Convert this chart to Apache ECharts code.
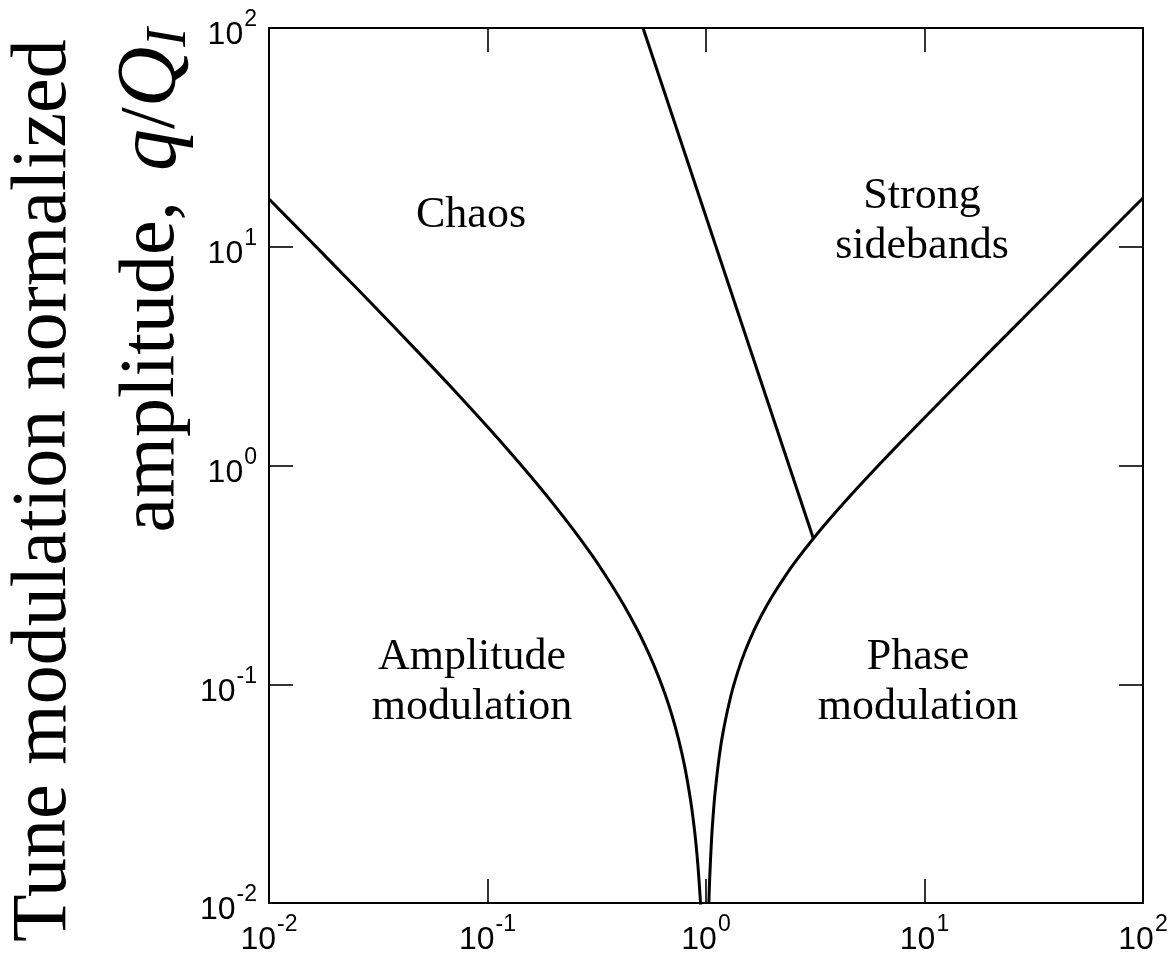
<!DOCTYPE html>
<html>
<head>
<meta charset="utf-8">
<script src="https://cdn.jsdelivr.net/npm/echarts@6/dist/echarts.min.js"></script>
<style>
  html, body { margin: 0; padding: 0; background: #fff; }
  #chart { width: 1175px; height: 960px; }
</style>
</head>
<body>
<div id="chart"></div>
<script>
// Regime boundaries of a tune-modulated oscillator on log-log axes.
// x: modulation tune ratio, y: normalized modulation amplitude q/Q_I.

// Boundary between amplitude modulation and chaos  [x, q/Q_I]
const amplitudeBoundary = [
  [0.01, 16.53], [0.015, 10.97], [0.02, 8.18], [0.03, 5.40], [0.05, 3.17],
  [0.07, 2.22], [0.1, 1.503], [0.13, 1.118], [0.16, 0.877], [0.2, 0.668],
  [0.25, 0.501], [0.3, 0.390], [0.35, 0.310], [0.4, 0.2505], [0.45, 0.2041],
  [0.5, 0.167], [0.55, 0.1366], [0.6, 0.1113], [0.65, 0.0899], [0.7, 0.0716],
  [0.75, 0.0557], [0.8, 0.0418], [0.85, 0.0295], [0.88, 0.0228], [0.9, 0.0186],
  [0.92, 0.0145], [0.94, 0.0107], [0.945, 0.0097]
];

// Boundary of the phase modulation regime
const phaseBoundary = [
  [1.03, 0.0099], [1.04, 0.0131], [1.06, 0.0195], [1.08, 0.0257], [1.1, 0.0319],
  [1.15, 0.0469], [1.2, 0.0612], [1.3, 0.0886], [1.4, 0.1145], [1.5, 0.1392],
  [1.65, 0.1743], [1.8, 0.2078], [2, 0.2505], [2.3, 0.3115], [2.6, 0.370],
  [3.1, 0.4638], [3.6, 0.5548], [4.2, 0.6616], [5, 0.8016], [6, 0.974],
  [7, 1.145], [8.5, 1.400], [10, 1.653], [14, 2.326], [20, 3.332],
  [30, 5.004], [50, 8.347], [70, 11.687], [100, 16.70]
];

// Boundary between chaos and strong sidebands
const sidebandBoundary = [
  [3.1, 0.4638], [0.515, 100]
];

// Decade range shown on both axes (exponents of ten)
const decadeExponents = [-2, -1, 0, 1, 2];

const regionLabels = [
  { lines: ['Chaos'], x: 471, y: 215 },
  { lines: ['Strong', 'sidebands'], x: 922, y: 221 },
  { lines: ['Amplitude', 'modulation'], x: 472, y: 682 },
  { lines: ['Phase', 'modulation'], x: 918, y: 682 }
];

const tickFont = '"Liberation Sans", Arial, Helvetica, sans-serif';
const serifFont = '"Liberation Serif", "Times New Roman", serif';

// "10" sits low in a 36px label line, the exponent is raised to its top
const labelRich = {
  b: { fontFamily: tickFont, fontSize: 32, color: '#000', lineHeight: 36, height: 21, verticalAlign: 'bottom' },
  s: { fontFamily: tickFont, fontSize: 23, color: '#000', lineHeight: 36, height: 20, verticalAlign: 'top', padding: [0, 0, 0, 1] }
};

function labelFormatter(value) {
  const e = Math.round(Math.log10(value));
  return '{b|10}{s|' + e + '}';
}

const axisCommon = {
  type: 'log',
  logBase: 10,
  min: Math.pow(10, decadeExponents[0]),
  max: Math.pow(10, decadeExponents[decadeExponents.length - 1]),
  axisLine: { show: true, onZero: false, lineStyle: { color: '#000', width: 2 } },
  axisTick: { show: true, inside: true, length: 24, lineStyle: { color: '#000', width: 1.6 } },
  minorTick: { show: false },
  splitLine: { show: false },
  minorSplitLine: { show: false }
};

const chart = echarts.init(document.getElementById('chart'), null, { renderer: 'canvas' });

const lineStyle = { color: '#000', width: 3 };

const option = {
  animation: false,
  backgroundColor: '#fff',
  grid: { left: 269, right: 32, top: 28, bottom: 57, containLabel: false },
  xAxis: [
    Object.assign({}, axisCommon, {
      position: 'bottom',
      axisLabel: { show: true, margin: 12, formatter: labelFormatter, rich: labelRich }
    }),
    Object.assign({}, axisCommon, {
      position: 'top',
      axisLabel: { show: false }
    })
  ],
  yAxis: [
    Object.assign({}, axisCommon, {
      position: 'left',
      axisLabel: { show: true, margin: 12, formatter: labelFormatter, rich: labelRich }
    }),
    Object.assign({}, axisCommon, {
      position: 'right',
      axisLabel: { show: false }
    })
  ],
  series: [
    {
      type: 'line', name: 'amplitude', data: amplitudeBoundary,
      smooth: 0.3, showSymbol: false, lineStyle: lineStyle, clip: true
    },
    {
      type: 'line', name: 'phase', data: phaseBoundary,
      smooth: 0.3, showSymbol: false, lineStyle: lineStyle, clip: true
    },
    {
      type: 'line', name: 'sidebands', data: sidebandBoundary,
      showSymbol: false, lineStyle: lineStyle, clip: true
    }
  ],
  graphic: []
};

// Region captions
regionLabels.forEach(function (r) {
  option.graphic.push({
    type: 'text',
    x: r.x, y: r.y,
    style: {
      text: r.lines.join('\n'),
      font: '44px ' + serifFont,
      lineHeight: 50,
      fill: '#000',
      textAlign: 'center',
      textVerticalAlign: 'middle'
    }
  });
});

// Vertical axis title, two lines reading bottom to top
option.graphic.push({
  type: 'text',
  x: 84, y: 942,
  rotation: Math.PI / 2,
  style: {
    text: 'Tune modulation normalized',
    font: '78px ' + serifFont,
    fill: '#000',
    textAlign: 'left',
    textVerticalAlign: 'bottom'
  }
});
option.graphic.push({
  type: 'text',
  x: 198, y: 28,
  rotation: Math.PI / 2,
  style: {
    text: 'amplitude,{gap| }{i|q}/{i|Q}{sub|I}',
    fill: '#000',
    textAlign: 'right',
    textVerticalAlign: 'bottom',
    rich: {
      gap: { fontFamily: serifFont, fontSize: 78, lineHeight: 90, width: 30 },
      i: { fontFamily: serifFont, fontSize: 84, fontStyle: 'italic', lineHeight: 90, verticalAlign: 'middle' },
      sub: { fontFamily: serifFont, fontSize: 56, fontStyle: 'italic', lineHeight: 90, verticalAlign: 'bottom' }
    },
    fontFamily: serifFont,
    fontSize: 78,
    lineHeight: 90
  }
});

chart.setOption(option);
</script>
</body>
</html>
